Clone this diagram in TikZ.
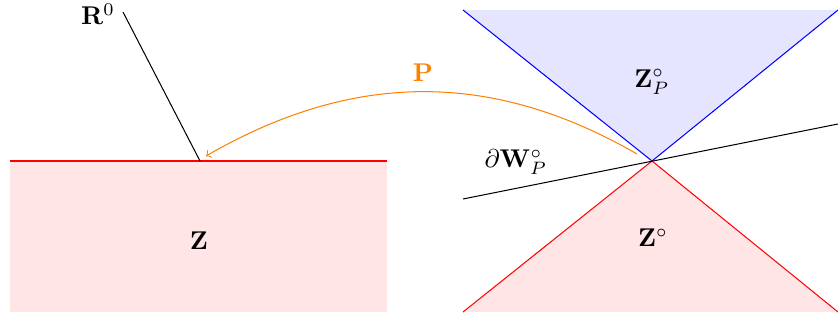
\documentclass[tikz,border=0pt]{standalone}
\usepackage{amsmath}
\begin{document}
\begin{tikzpicture}[x=0.0137cm, y=-0.0137cm]
            \useasboundingbox (0,0) rectangle (838,320);

            % 左边的区域 Z
            \fill[red!10] (10,161) rectangle (387,312);
            \draw[red] (10,161) -- (387,161);
            \node (Z) at (199,241) {$\mathbf{Z}$};

            % 射线 R^0
            \coordinate (R0a) at (200,161);
            \coordinate (R0b) at (123,12);
            \draw (R0a) -- (R0b);
            \node (R0) at (98,14) {$\mathbf{R}^0$};

            % 右边的两个锥
            \coordinate (O) at (652,161);
            \coordinate (TL) at (463,10);
            \coordinate (TR) at (838,10);
            \coordinate (BL) at (463,312);
            \coordinate (BR) at (838,312);
            \fill[blue!10] (TL) -- (TR) -- (O) -- cycle;
            \draw[blue] (TL) -- (O) -- (TR);
            \fill[red!10] (BL) -- (BR) -- (O) -- cycle;
            \draw[red] (BL) -- (O) -- (BR);
            \node (ZP) at (652,82) {$\mathbf{Z}^\circ_P$};
            \node (Zc) at (653,238) {$\mathbf{Z}^\circ$};

            % 边界 dW
            \coordinate (Wa) at (463,199);
            \coordinate (Wb) at (838,124);
            \draw (Wa) -- (Wb);
            \node (W) at (516,162) {$\partial\mathbf{W}^\circ_P$};

            % 映射 P
            \coordinate (Ps) at (637,154);
            \coordinate (Pe) at (206,156);
            \draw[->, orange] (Ps) to[out=150, in=30] (Pe);
            \node[orange] (P) at (423,73) {$\mathbf{P}$};
        \end{tikzpicture}
\end{document}
